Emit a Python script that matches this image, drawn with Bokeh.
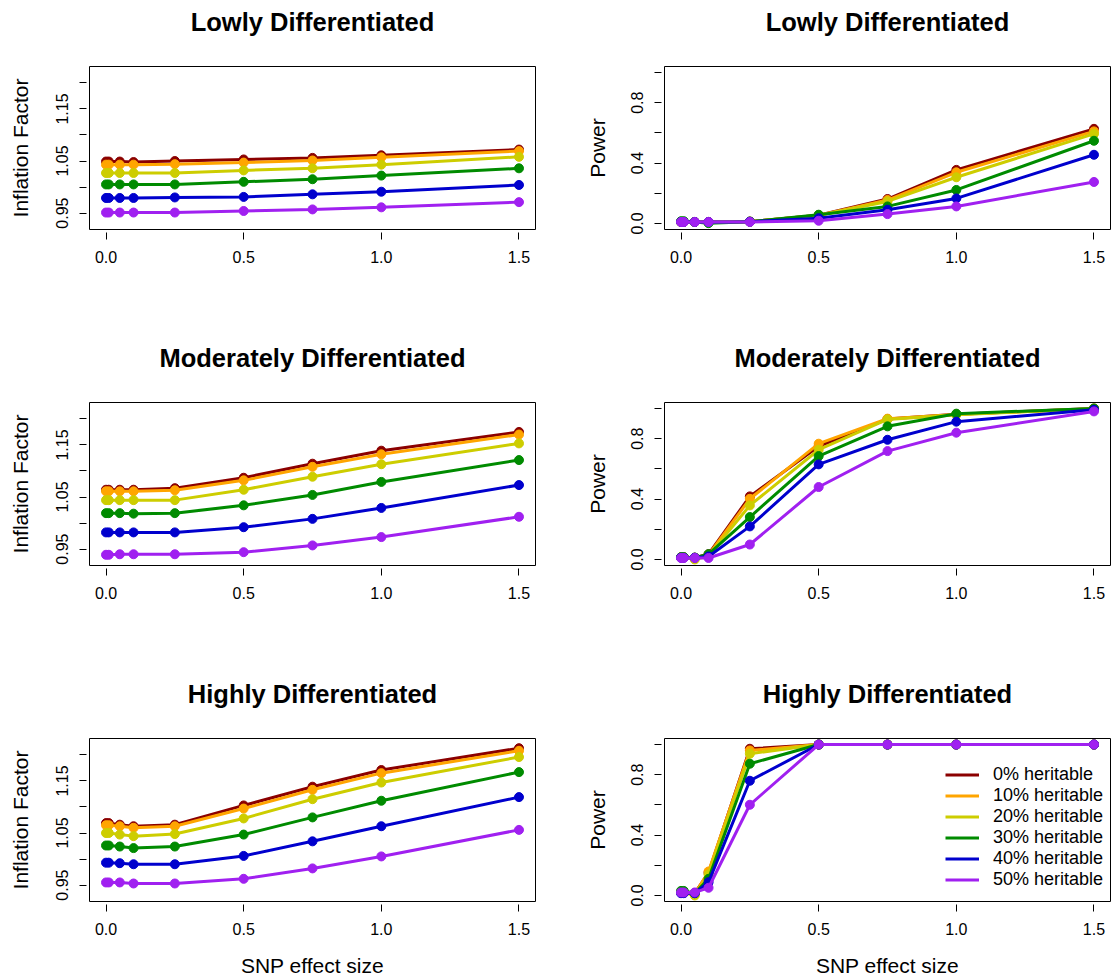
from bokeh.plotting import figure
from bokeh.layouts import column, row
from bokeh.models import FixedTicker, Legend, LegendItem, PrintfTickFormatter, Title
from bokeh.embed import file_html
from bokeh.resources import INLINE

# SNP effect sizes simulated
effect_size = [0.0, 0.01, 0.05, 0.1, 0.25, 0.5, 0.75, 1.0, 1.5]

heritability_labels = ["0% heritable", "10% heritable", "20% heritable",
                       "30% heritable", "40% heritable", "50% heritable"]
series_colors = ["#8B0000", "#FFA500", "#CDCD00", "#008B00", "#0000CD", "#A020F0"]

# Genomic inflation factor, one row per heritability level
inflation_lowly = [
    [1.049, 1.049, 1.049, 1.048, 1.050, 1.053, 1.056, 1.061, 1.072],
    [1.043, 1.043, 1.043, 1.043, 1.044, 1.047, 1.051, 1.057, 1.069],
    [1.027, 1.027, 1.027, 1.027, 1.027, 1.032, 1.036, 1.043, 1.058],
    [1.005, 1.005, 1.005, 1.005, 1.005, 1.010, 1.015, 1.022, 1.036],
    [0.979, 0.979, 0.979, 0.979, 0.980, 0.981, 0.986, 0.991, 1.004],
    [0.951, 0.951, 0.951, 0.951, 0.951, 0.954, 0.957, 0.961, 0.971],
]
inflation_moderately = [
    [1.064, 1.064, 1.064, 1.064, 1.067, 1.087, 1.114, 1.139, 1.175],
    [1.061, 1.061, 1.061, 1.061, 1.063, 1.082, 1.108, 1.132, 1.170],
    [1.044, 1.044, 1.044, 1.044, 1.044, 1.064, 1.089, 1.113, 1.153],
    [1.019, 1.019, 1.019, 1.018, 1.019, 1.034, 1.054, 1.079, 1.121],
    [0.982, 0.982, 0.982, 0.982, 0.982, 0.992, 1.008, 1.029, 1.073],
    [0.939, 0.939, 0.940, 0.940, 0.940, 0.944, 0.957, 0.973, 1.012],
]
inflation_highly = [
    [1.069, 1.069, 1.066, 1.063, 1.066, 1.103, 1.139, 1.171, 1.213],
    [1.065, 1.065, 1.063, 1.060, 1.063, 1.097, 1.133, 1.165, 1.208],
    [1.050, 1.050, 1.047, 1.044, 1.048, 1.078, 1.115, 1.147, 1.196],
    [1.026, 1.026, 1.024, 1.021, 1.024, 1.047, 1.080, 1.112, 1.167],
    [0.993, 0.993, 0.992, 0.990, 0.990, 1.006, 1.034, 1.063, 1.119],
    [0.955, 0.955, 0.955, 0.953, 0.953, 0.962, 0.982, 1.005, 1.056],
]

# Detection power, one row per heritability level
power_lowly = [
    [0.010, 0.010, 0.010, 0.010, 0.012, 0.055, 0.162, 0.355, 0.627],
    [0.010, 0.010, 0.010, 0.010, 0.012, 0.053, 0.155, 0.339, 0.610],
    [0.010, 0.010, 0.010, 0.010, 0.012, 0.055, 0.146, 0.306, 0.594],
    [0.015, 0.015, 0.010, 0.002, 0.012, 0.058, 0.113, 0.222, 0.548],
    [0.010, 0.010, 0.010, 0.010, 0.012, 0.035, 0.091, 0.166, 0.455],
    [0.010, 0.010, 0.010, 0.010, 0.010, 0.018, 0.062, 0.113, 0.275],
]
power_moderately = [
    [0.015, 0.015, 0.012, 0.035, 0.418, 0.750, 0.930, 0.962, 1.000],
    [0.015, 0.015, 0.012, 0.030, 0.402, 0.767, 0.933, 0.961, 0.999],
    [0.015, 0.015, 0.000, 0.025, 0.358, 0.727, 0.928, 0.959, 0.999],
    [0.015, 0.015, 0.012, 0.035, 0.281, 0.685, 0.882, 0.966, 1.000],
    [0.012, 0.012, 0.012, 0.020, 0.219, 0.630, 0.793, 0.913, 0.992],
    [0.010, 0.010, 0.010, 0.010, 0.099, 0.480, 0.718, 0.840, 0.981],
]
power_highly = [
    [0.020, 0.020, 0.015, 0.150, 0.972, 1.000, 1.000, 1.000, 1.000],
    [0.020, 0.020, 0.010, 0.159, 0.961, 1.000, 1.000, 1.000, 1.000],
    [0.020, 0.020, 0.000, 0.140, 0.939, 1.000, 1.000, 1.000, 1.000],
    [0.030, 0.030, 0.015, 0.110, 0.873, 1.000, 1.000, 1.000, 1.000],
    [0.015, 0.015, 0.015, 0.088, 0.760, 1.000, 1.000, 1.000, 1.000],
    [0.020, 0.020, 0.020, 0.051, 0.601, 1.000, 1.000, 1.000, 1.000],
]

x_ticks = [0.0, 0.5, 1.0, 1.5]
inflation_ticks = [0.95, 1.05, 1.15]
inflation_minor = [1.00, 1.10, 1.20]
power_ticks = [0.0, 0.4, 0.8]
power_minor = [0.2, 0.6, 1.0]

FONT = "Liberation Sans"
FRAME_W, FRAME_H, TOP = 446, 163, 66


def style_axis(ax, ticks, minor, fmt):
    ax.ticker = FixedTicker(ticks=ticks, minor_ticks=minor)
    ax.formatter = PrintfTickFormatter(format=fmt)
    ax.axis_line_color = None
    ax.major_tick_in = -3
    ax.major_tick_out = 10
    ax.minor_tick_in = -3
    ax.minor_tick_out = 10
    ax.major_tick_line_color = "black"
    ax.minor_tick_line_color = "black"
    ax.major_label_text_font = FONT
    ax.major_label_text_font_size = "16px"
    ax.major_label_text_color = "black"
    ax.major_label_standoff = 11
    ax.axis_label_text_font = FONT
    ax.axis_label_text_font_size = "21px"
    ax.axis_label_text_font_style = "normal"
    ax.axis_label_text_color = "black"


def make_panel(title, ylabel, series, y_range, y_ticks, y_minor, y_fmt,
               label_gap, left, right, bottom, xlabel=None, legend=False):
    p = figure(width=left + FRAME_W + right, height=TOP + FRAME_H + bottom,
               x_range=(-0.06, 1.56), y_range=y_range,
               output_backend="svg", toolbar_location=None,
               min_border_left=left, min_border_right=right,
               min_border_top=TOP, min_border_bottom=bottom)
    p.xgrid.visible = False
    p.ygrid.visible = False
    p.outline_line_color = "black"
    p.outline_line_width = 1
    p.outline_line_alpha = 1.0
    p.background_fill_color = "white"
    p.border_fill_color = "white"

    # a blank strip directly above the box lifts the heading clear of it
    p.add_layout(Title(text=" ", text_font_size="2px", standoff=27), "above")
    p.add_layout(Title(text=title, align="center", standoff=0,
                       vertical_align="bottom", text_font=FONT,
                       text_font_size="25.5px", text_font_style="bold",
                       text_color="black"), "above")

    style_axis(p.xaxis[0], x_ticks, [], "%.1f")
    style_axis(p.yaxis[0], y_ticks, y_minor, y_fmt)
    p.yaxis[0].major_label_orientation = "vertical"
    p.yaxis[0].axis_label = ylabel
    p.yaxis[0].axis_label_standoff = label_gap
    if xlabel:
        p.xaxis[0].axis_label = xlabel
        p.xaxis[0].axis_label_standoff = 16

    items = []
    for vals, color, lab in zip(series, series_colors, heritability_labels):
        r = p.line(effect_size, vals, line_color=color, line_width=3)
        p.scatter(effect_size, vals, size=9, fill_color=color, line_color=color)
        items.append(LegendItem(label=lab, renderers=[r]))

    if legend:
        lg = Legend(items=items, location=(281, 11),
                    padding=0, margin=0, spacing=0,
                    glyph_width=34, glyph_height=21, label_height=21,
                    label_standoff=14,
                    label_text_font=FONT, label_text_font_size="18px",
                    label_text_color="black",
                    border_line_color=None, background_fill_alpha=0)
        p.add_layout(lg)
    return p


infl_range = (0.9184, 1.2316)
pow_range = (-0.04, 1.04)

rows = []
titles = ["Lowly Differentiated", "Moderately Differentiated", "Highly Differentiated"]
infl_sets = [inflation_lowly, inflation_moderately, inflation_highly]
pow_sets = [power_lowly, power_moderately, power_highly]
for i in range(3):
    last = i == 2
    bottom = 78 if last else 107
    xl = "SNP effect size" if last else None
    left_p = make_panel(titles[i], "Inflation Factor", infl_sets[i], infl_range,
                        inflation_ticks, inflation_minor, "%.2f", 22,
                        89, 20, bottom, xlabel=xl)
    right_p = make_panel(titles[i], "Power", pow_sets[i], pow_range,
                         power_ticks, power_minor, "%.1f", 20,
                         109, 1, bottom, xlabel=xl, legend=last)
    rows.append(row(left_p, right_p))

layout = column(*rows)

open("out.html", "w").write(file_html(layout, INLINE))
